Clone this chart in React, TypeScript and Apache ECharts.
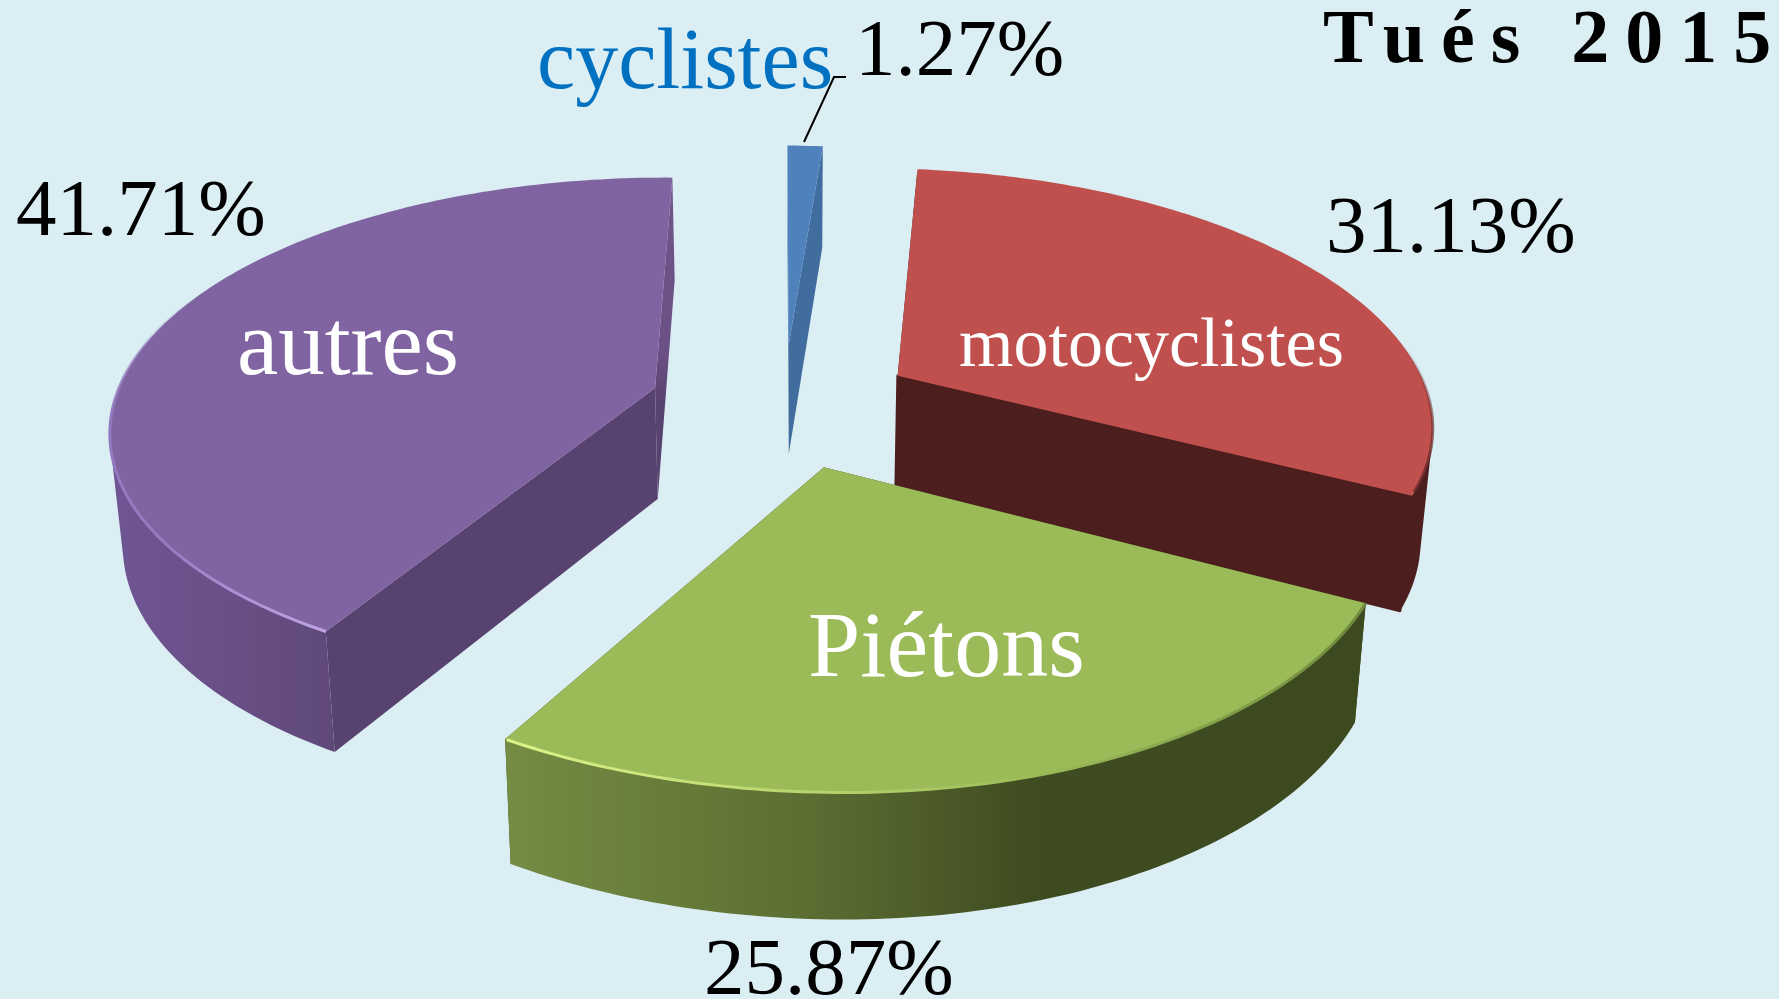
import React, { useEffect, useRef } from "react";
import * as echarts from "echarts";

const categories = ["motocyclistes", "Piétons", "autres", "cyclistes"];
const values = [31.13, 25.87, 41.71, 1.27];
const titleText = "Tués 2015";

const WIDTH = 1779;
const HEIGHT = 999;
const K = WIDTH / 1568;

// pie layout: clockwise from 12 o'clock, then paint order back to front
const FIRST_ANGLE = 5.5;
const EXPLODE = 0.25;
const CENTER = [0.108, 0.19];
const DRAW_ORDER = [3, 2, 0, 1];
const RAD = Math.PI / 180;

const TOP_COLORS = ["#C0504D", "#9BBB59", "#8064A2", "#4F81BD"];
const INNER_COLORS = ["#4D1E1E", "#3D4A1F", "#584270", "#416D9E"];

// perspective of the ground plane
function project(u: number, v: number): number[] {
  const w = 1 + 0.1673 * v;
  return [640 + ((u < 0 ? 493 : 485) * u) / w, -1000 + 1400 / w];
}
function lower(p: number[]): number[] {
  return [p[0] + (700 - p[0]) * 0.019, p[1] + 84 + 0.04 * p[1]];
}
function toPage(p: number[]): number[] {
  return [p[0] * K, p[1] * K];
}

const total = values.reduce((a, b) => a + b, 0);
const angleStart: number[] = [];
const angleEnd: number[] = [];
values.reduce((acc, v, i) => {
  angleStart[i] = acc;
  angleEnd[i] = acc + (v / total) * 360;
  return angleEnd[i];
}, FIRST_ANGLE);

const hGrad = (x0: number, x1: number, stops: [number, string][]) =>
  new echarts.graphic.LinearGradient(
    x0 * K,
    0,
    x1 * K,
    0,
    stops.map(([offset, color]) => ({ offset, color })),
    true
  );
const vGrad = (stops: [number, string][]) =>
  new echarts.graphic.LinearGradient(0, 0, 0, 1, stops.map(([offset, color]) => ({ offset, color })));

const ARC_FILL: any[] = [
  "#4D1E1E",
  hGrad(447, 1200, [[0, "#748C44"], [0.35, "#5C6E32"], [0.62, "#3F4B20"], [1, "#3D4A1F"]]),
  hGrad(97, 300, [[0, "#705594"], [0.42, "#6A5088"], [1, "#5F4979"]]),
  "#416D9E",
];
const END_WALL: any[] = [
  "#4D1E1E",
  "#3D4A1F",
  vGrad([[0, "#6F5589"], [0.55, "#6A5084"], [0.7, "#584270"], [1, "#584270"]]),
  "#416D9E",
];
// bevel along the rim: [from angle share, to angle share, stroke]
const RIMS: any[] = [
  [0.68, 1, vGrad([[0, "rgba(105,40,40,0)"], [0.5, "rgba(105,40,40,0.6)"], [1, "rgba(105,40,40,0.85)"]])],
  [0, 1, new echarts.graphic.LinearGradient(0, 0, 1, 0, [
    { offset: 0, color: "#DCF488" },
    { offset: 0.38, color: "#B4D26B" },
    { offset: 0.62, color: "#9BBB59" },
    { offset: 1, color: "#6F8A3C" },
  ])],
  [0, 0.55, vGrad([[0, "rgba(146,120,190,0)"], [0.35, "#9278BE"], [0.75, "#957BC0"], [1, "#BCA4E4"]])],
  null,
];

function signedArea(p: number[][]): number {
  let a = 0;
  p.forEach((q, i) => {
    const r = p[(i + 1) % p.length];
    a += q[0] * r[1] - r[0] * q[1];
  });
  return a;
}

function renderSlice(_params: any, api: any) {
  const i = api.value(0);
  const a0 = api.value(1);
  const a1 = api.value(2);
  const mid = ((a0 + a1) / 2) * RAD;
  const ua = CENTER[0] + EXPLODE * Math.sin(mid);
  const va = CENTER[1] + EXPLODE * Math.cos(mid);
  const rimAt = (deg: number) => project(ua + Math.sin(deg * RAD), va + Math.cos(deg * RAD));
  const apex = project(ua, va);
  const arc: number[][] = [];
  const steps = Math.max(4, Math.ceil(a1 - a0));
  for (let s = 0; s <= steps; s++) arc.push(rimAt(a0 + ((a1 - a0) * s) / steps));
  const arcLow = arc.map(lower);
  const apexLow = lower(apex);
  const first = arc[0];
  const last = arc[arc.length - 1];

  const poly = (pts: number[][], fill: any, stroke?: any) => ({
    type: "polygon",
    shape: { points: pts.map(toPage) },
    style: stroke ? { fill, stroke, lineWidth: 2.5, lineJoin: "round" } : { fill },
    silent: true,
  });

  // outer wall: only the run of quads that faces the viewer
  const upper: number[][] = [];
  const bottom: number[][] = [];
  for (let s = 0; s < steps; s++) {
    if (signedArea([arc[s], arc[s + 1], arcLow[s + 1], arcLow[s]]) < 0) {
      if (!upper.length) {
        upper.push(arc[s]);
        bottom.push(arcLow[s]);
      }
      upper.push(arc[s + 1]);
      bottom.push(arcLow[s + 1]);
    }
  }

  const children: any[] = [
    poly([apex, first, arcLow[0], apexLow], INNER_COLORS[i]),
    poly([apex, last, arcLow[arcLow.length - 1], apexLow], END_WALL[i], i === 0 ? END_WALL[i] : undefined),
  ];
  if (upper.length > 1) children.push(poly([...upper, ...bottom.slice().reverse()], ARC_FILL[i]));
  children.push(poly([apex, ...arc], TOP_COLORS[i]));

  const rim = RIMS[i];
  if (rim) {
    const rimPts: number[][] = [];
    const from = a0 + (a1 - a0) * rim[0];
    const to = a0 + (a1 - a0) * rim[1];
    for (let d = from; d <= to; d += 1) rimPts.push(rimAt(d));
    children.push({
      type: "polyline",
      shape: { points: rimPts.map(toPage) },
      style: { fill: "none", stroke: rim[2], lineWidth: 3 },
      silent: true,
    });
  }
  return { type: "group", children };
}

const pct = (v: number) => `${v.toFixed(2)}%`;

function label(text: string, x: number, baseline: number, size: number, fill: string) {
  return {
    type: "text",
    z: 100,
    x,
    y: baseline,
    silent: true,
    style: {
      text,
      fill,
      font: `${size}px "Liberation Serif", serif`,
      align: "left",
      verticalAlign: "bottom",
    },
  };
}

export default function App() {
  const ref = useRef<HTMLDivElement>(null);
  useEffect(() => {
    const chart = echarts.init(ref.current!, null, { renderer: "svg" });
    chart.setOption({
      animation: false,
      backgroundColor: "#DAEEF3",
      title: {
        text: titleText,
        left: 1323,
        top: -2,
        padding: 0,
        textStyle: {
          fontFamily: '"Liberation Serif", serif',
          fontWeight: "bold",
          fontSize: 76,
          color: "#000000",
        },
      },
      series: [
        {
          type: "custom",
          coordinateSystem: "none",
          clip: false,
          renderItem: renderSlice,
          data: DRAW_ORDER.map((i) => ({
            name: categories[i],
            value: [i, angleStart[i], angleEnd[i], values[i]],
          })),
        },
      ],
      graphic: {
        elements: [
          {
            type: "polyline",
            z: 90,
            silent: true,
            shape: { points: [[804, 142], [834, 77], [846, 77]] },
            style: { fill: "none", stroke: "#000000", lineWidth: 2 },
          },
          label(categories[3], 537, 102, 86, "#0070C0"),
          label(pct(values[3]), 855, 88, 81, "#000000"),
          label(pct(values[2]), 16, 248, 81, "#000000"),
          label(pct(values[0]), 1326, 265, 81, "#000000"),
          label(pct(values[1]), 704, 1007, 81, "#000000"),
          label(categories[2], 237, 389, 93, "#FFFFFF"),
          label(categories[0], 959, 377, 70, "#FFFFFF"),
          label(categories[1], 808, 691, 94, "#FFFFFF"),
        ],
      },
    });
    ref.current!.querySelectorAll("text").forEach((t) => {
      if (t.textContent === titleText) (t as any).style.letterSpacing = "16px";
    });
    return () => chart.dispose();
  }, []);
  return (
    <div
      ref={ref}
      style={{ position: "fixed", left: 0, top: 0, width: WIDTH, height: HEIGHT }}
    />
  );
}
